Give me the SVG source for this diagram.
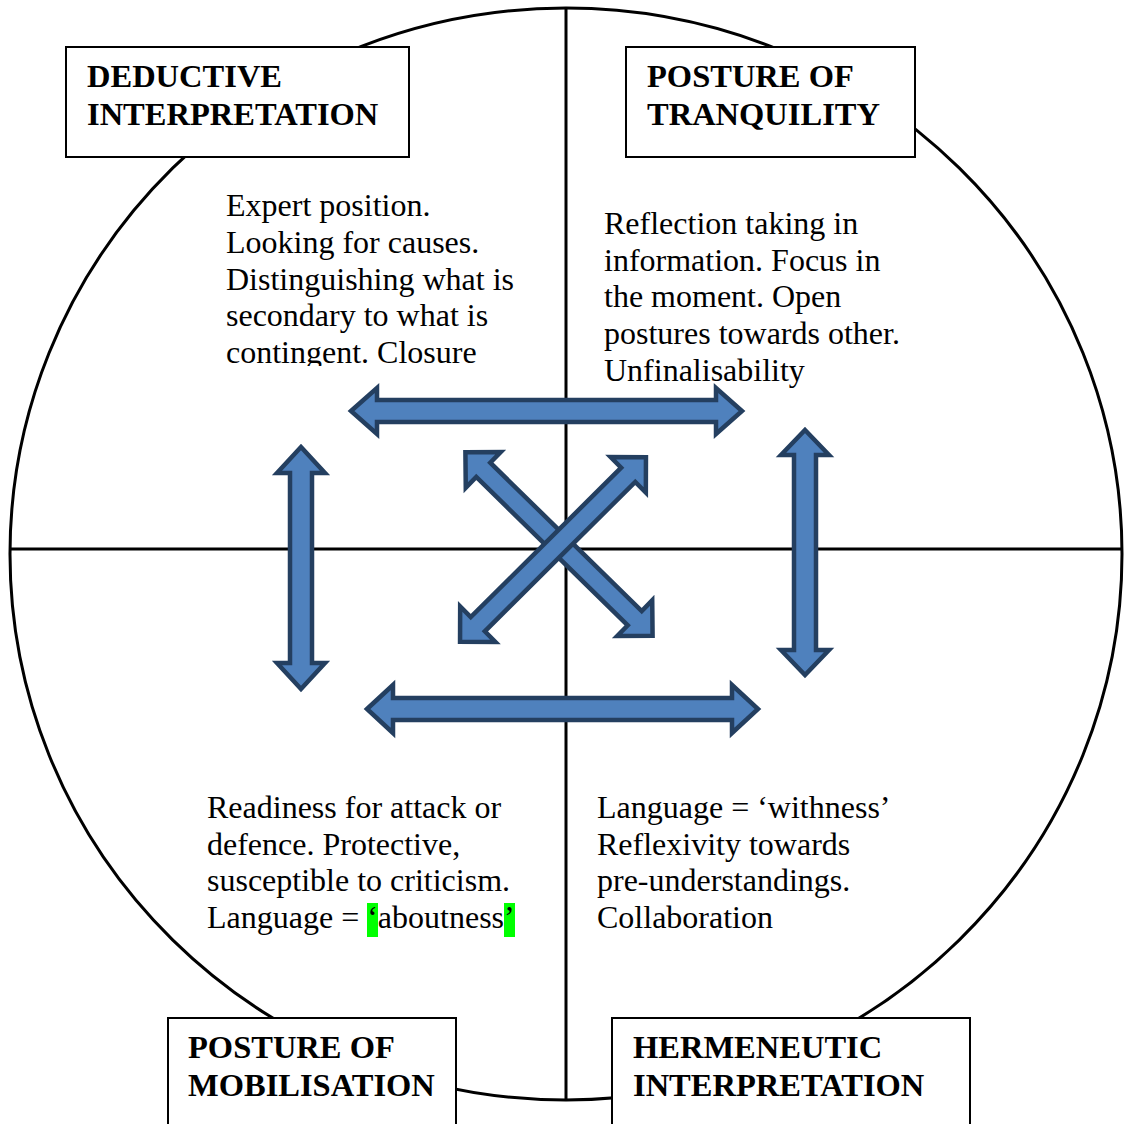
<svg xmlns="http://www.w3.org/2000/svg" width="1127" height="1124" viewBox="0 0 1127 1124">
<style>
.ax{stroke:#000;stroke-width:3;fill:none}
.box{fill:#fff;stroke:#000;stroke-width:2}
.title{font-family:"Liberation Serif","Times New Roman",serif;font-weight:bold;font-size:32.5px;fill:#000}
.body{font-family:"Liberation Serif","Times New Roman",serif;font-size:32px;fill:#000}
.arr{fill:#4F81BD;stroke:#243F60;stroke-width:4.5;stroke-linejoin:miter}
.hl{fill:#00FF00}
</style>
<defs>
<clipPath id="clipTL"><rect x="200" y="170" width="340" height="196"/></clipPath>
</defs>
<rect width="1127" height="1124" fill="#fff"/>
<g id="frame">
<ellipse class="ax" cx="566" cy="554" rx="556" ry="546" stroke-width="3.5"/>
<line class="ax" x1="566" y1="8" x2="566" y2="1100"/>
<line class="ax" x1="10" y1="549" x2="1122" y2="549"/>
</g>
<g id="node-deductive">
<rect class="box" x="66" y="47" width="343" height="110"/>
<text class="title" x="87" y="87">DEDUCTIVE</text>
<text class="title" x="87" y="125">INTERPRETATION</text>
</g>
<g id="node-tranquility">
<rect class="box" x="626" y="47" width="289" height="110"/>
<text class="title" x="647" y="87">POSTURE OF</text>
<text class="title" x="647" y="125">TRANQUILITY</text>
</g>
<g id="node-mobilisation">
<rect class="box" x="168" y="1018" width="288" height="120"/>
<text class="title" x="188" y="1058">POSTURE OF</text>
<text class="title" x="188" y="1096">MOBILISATION</text>
</g>
<g id="node-hermeneutic">
<rect class="box" x="612" y="1018" width="358" height="120"/>
<text class="title" x="633" y="1058">HERMENEUTIC</text>
<text class="title" x="633" y="1096">INTERPRETATION</text>
</g>
<g id="text-deductive" clip-path="url(#clipTL)">
<text class="body" x="226" y="216">Expert position.</text>
<text class="body" x="226" y="253">Looking for causes.</text>
<text class="body" x="226" y="290">Distinguishing what is</text>
<text class="body" x="226" y="326">secondary to what is</text>
<text class="body" x="226" y="363">contingent. Closure</text>
</g>
<g id="text-tranquility">
<text class="body" x="604" y="234">Reflection taking in</text>
<text class="body" x="604" y="271">information. Focus in</text>
<text class="body" x="604" y="307">the moment. Open</text>
<text class="body" x="604" y="344">postures towards other.</text>
<text class="body" x="604" y="381">Unfinalisability</text>
</g>
<g id="text-mobilisation">
<rect class="hl" x="367" y="903" width="11" height="34"/>
<rect class="hl" x="504" y="903" width="11" height="34"/>
<text class="body" x="207" y="818">Readiness for attack or</text>
<text class="body" x="207" y="855">defence. Protective,</text>
<text class="body" x="207" y="891">susceptible to criticism.</text>
<text class="body" x="207" y="928">Language = ‘aboutness’</text>
</g>
<g id="text-hermeneutic">
<text class="body" x="597" y="818">Language = ‘withness’</text>
<text class="body" x="597" y="855">Reflexivity towards</text>
<text class="body" x="597" y="891">pre-understandings.</text>
<text class="body" x="597" y="928">Collaboration</text>
</g>
<g id="connectors">
<path class="arr" d="M351,411 L377,388 L377,400 L716,400 L716,388 L742,411 L716,434 L716,422 L377,422 L377,434 Z"/>
<path class="arr" d="M367,709 L393,685 L393,698 L732,698 L732,685 L758,709 L732,733 L732,720 L393,720 L393,733 Z"/>
<path class="arr" d="M301,447 L325,473 L312,473 L312,663 L325,663 L301,689 L277,663 L290,663 L290,473 L277,473 Z"/>
<path class="arr" d="M805,430 L829,455 L816,455 L816,650 L829,650 L805,675 L781,650 L794,650 L794,455 L781,455 Z"/>
<path class="arr" transform="translate(559,544) rotate(44.4)" d="M-131,0 L-106,-25 L-106,-10 L106,-10 L106,-25 L131,0 L106,25 L106,10 L-106,10 L-106,25 Z"/>
<path class="arr" transform="translate(553,549.5) rotate(-44.8)" d="M-131,0 L-106,-25 L-106,-10 L106,-10 L106,-25 L131,0 L106,25 L106,10 L-106,10 L-106,25 Z"/>
</g>
</svg>
